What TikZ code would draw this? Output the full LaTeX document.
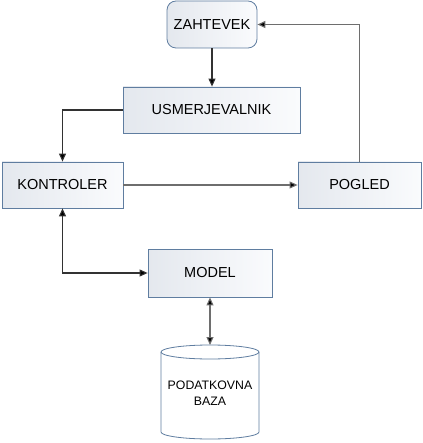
\documentclass[tikz,border=0pt]{standalone}
\usepackage{fontspec}
\setmainfont{Liberation Sans}
\usetikzlibrary{arrows.meta}
\definecolor{boxline}{RGB}{95,125,160}
\definecolor{boxL}{RGB}{228,232,238}
\definecolor{boxR}{RGB}{250,251,253}
\definecolor{conn}{RGB}{50,50,50}
\definecolor{conngray}{RGB}{110,110,110}
\begin{document}
\begin{tikzpicture}[x=1pt,y=1pt,
  box/.style={draw=boxline, line width=0.8pt, left color=boxL, right color=boxR,
    inner sep=0pt, font=\fontsize{14.5}{16}\selectfont},
  conline/.style={draw=conn, line width=1.1pt},
  tip/.style={-{Triangle[length=8pt,width=7pt,fill=black]}},
  both/.style={{Triangle[length=8pt,width=7pt,fill=black]}-{Triangle[length=8pt,width=7pt,fill=black]}}
]
\useasboundingbox (0,0) rectangle (422,-443);
\node[box, rounded corners=9pt, minimum width=90pt, minimum height=47pt] (zah) at (212,-24.5) {ZAHTEVEK};
\node[box, minimum width=177pt, minimum height=46pt] (usm) at (211.5,-110) {USMERJEVALNIK};
\node[box, minimum width=121pt, minimum height=46pt] (kon) at (62.5,-185) {KONTROLER};
\node[box, minimum width=123pt, minimum height=46pt] (pog) at (359.5,-185) {POGLED};
\node[box, minimum width=124pt, minimum height=48pt] (mod) at (210,-273) {MODEL};
% database cylinder
\path[draw=boxline, line width=0.8pt, fill=white]
  (161,-352) -- (161,-432) arc[start angle=180,end angle=360,x radius=49,y radius=7]
  -- (259,-352) arc[start angle=0,end angle=180,x radius=49,y radius=7] -- cycle;
\draw[boxline, line width=0.8pt] (161,-352) arc[start angle=180,end angle=360,x radius=49,y radius=7];
\coordinate (dbtop) at (210,-345);
\node[align=center, font=\fontsize{12.3}{16.5}\selectfont, inner sep=0pt] (db) at (210,-393) {PODATKOVNA\\BAZA};
% connectors
\draw[conline, tip] (zah.south) -- (zah.south |- usm.north);
\draw[conline, tip] (usm.west) -| (kon.north);
\draw[conline, draw=conngray, tip] (kon.east) -- (pog.west);
\draw[conline, draw=conngray, tip] (pog.north) |- (zah.east);
\draw[conline, both] (kon.south) |- (mod.west);
\draw[conline, draw=conngray, both] (mod.south) -- (dbtop);
\end{tikzpicture}
\end{document}
